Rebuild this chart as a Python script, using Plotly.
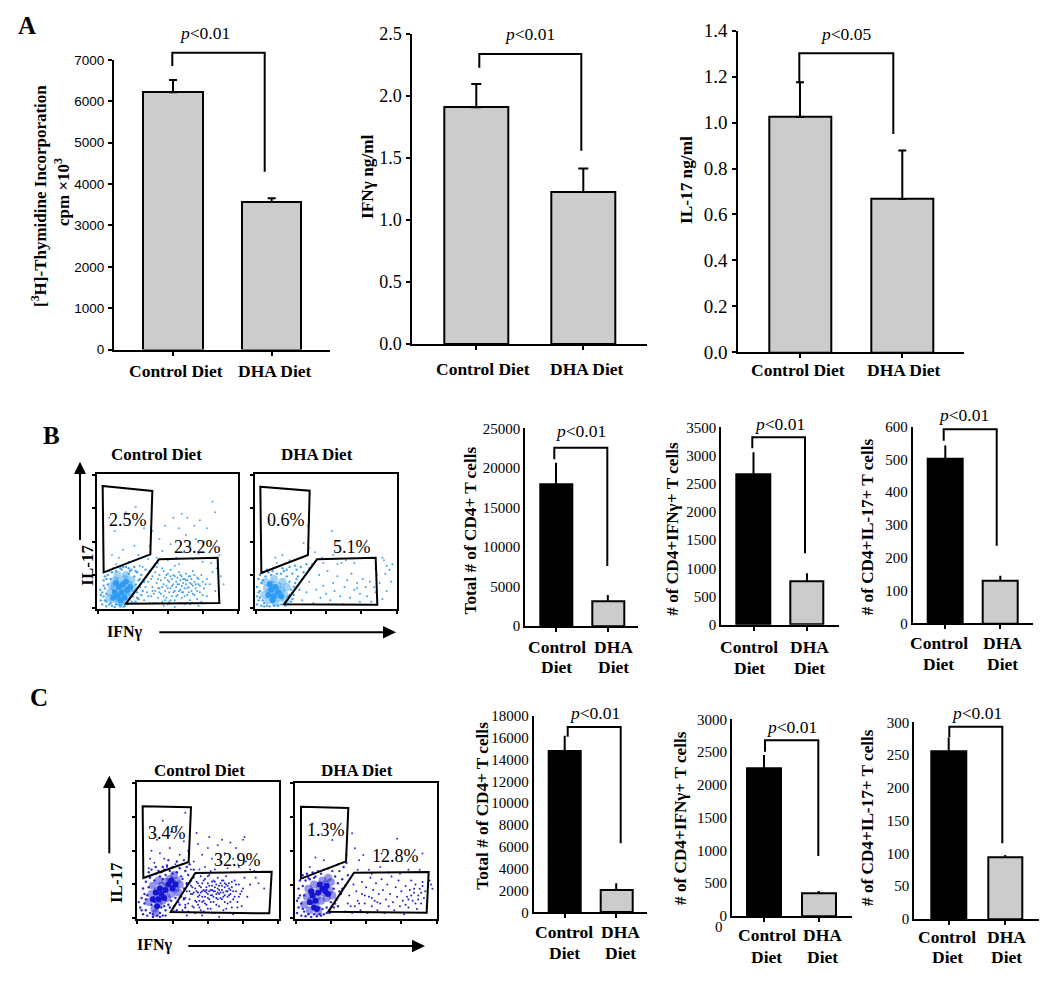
import plotly.graph_objects as go

W, H = 1050, 993
SERIF = "Liberation Serif"
SANS = "Liberation Sans"

categories = ["Control Diet", "DHA Diet"]
p_001 = "<i>p</i>&lt;0.01"
p_005 = "<i>p</i>&lt;0.05"

a1_means = [6220, 3566]; a1_errors = [295, 90]; a1_ticks = [0, 1000, 2000, 3000, 4000, 5000, 6000, 7000]
a2_means = [1.91, 1.225]; a2_errors = [0.187, 0.19]; a2_ticks = [0, 0.5, 1, 1.5, 2, 2.5]
a3_means = [1.024, 0.667]; a3_errors = [0.152, 0.212]; a3_ticks = [0, 0.2, 0.4, 0.6, 0.8, 1, 1.2, 1.4]
b1_means = [17900, 3120]; b1_errors = [2750, 800]; b1_ticks = [0, 5000, 10000, 15000, 20000, 25000]
b2_means = [2667, 775]; b2_errors = [390, 136]; b2_ticks = [0, 500, 1000, 1500, 2000, 2500, 3000, 3500]
b3_means = [501, 131]; b3_errors = [42, 14]; b3_ticks = [0, 100, 200, 300, 400, 500, 600]
c1_means = [14790, 2074]; c1_errors = [1400, 586]; c1_ticks = [0, 2000, 4000, 6000, 8000, 10000, 12000, 14000, 16000, 18000]
c2_means = [2257, 351]; c2_errors = [198, 30]; c2_ticks = [0, 500, 1000, 1500, 2000, 2500, 3000]
c3_means = [256, 94.6]; c3_errors = [21, 3]; c3_ticks = [0, 50, 100, 150, 200, 250, 300]

# Flow cytometry events, read by eye, percent of each axis (IFNg, IL-17)
bc_inner = [(12,12),(14,9),(15,16),(17,12),(19,8),(18,18),(16,6),(21,14),(13,19),(11,8),(20,20),(23,16)]
bc_core = [(9,12),(11,7),(12,16),(13,10),(14,20),(15,5),(15,13),(16,8),(17,17),(18,11),(19,22),(19,6),(20,14),(21,9),(22,18),(23,12),(24,21),(12,21),(10,17),(17,3),(25,15),(8,8),(14,25),(20,25)]
bc_mid = [(3,3),(4,9),(5,15),(4,21),(6,5),(6,11),(7,18),(7,25),(8,3),(9,22),(10,2),(10,27),(12,1),(13,28),(16,2),(17,29),(19,1.5),(21,3),(22,26),(23,28),(24,5),(25,9),(26,24),(27,18),(28,12),(28,27),(29,21),(30,16),(31,25),(31,10),(27,5),(33,20),(34,29),(2,6),(1.5,14),(6,1.5),(26,31),(20,31),(14,31),(11,30),(5,24),(8,28),(3,12),(29,7),(32,13),(24,29),(18,31),(2,10),(5,6),(9,4),(13,3),(26,4),(28,8),(30,22),(27,28),(22,30),(16,30),(6,22),(4,17)]
bc_gate = [(33,6),(35,12),(36,20),(37,28),(38,9),(39,16),(39,24),(40,4),(41,13),(42,19),(42,31),(43,8),(44,25),(44,15),(45,11),(45,21),(46,5),(47,18),(47,28),(48,13),(48,23),(49,8),(49,17),(50,26),(50,3),(51,20),(51,12),(52,15),(52,29),(53,9),(53,22),(54,18),(54,25),(55,13),(55,6),(56,20),(56,16),(57,23),(57,10),(58,18),(58,27),(59,14),(59,21),(60,8),(60,17),(60,24),(61,19),(61,12),(62,22),(62,15),(63,26),(63,18),(64,10),(64,21),(65,16),(65,24),(66,19),(66,6),(67,13),(67,22),(68,17),(68,28),(69,20),(69,10),(70,15),(71,23),(71,7),(72,18),(73,12),(74,25),(74,5),(75,20),(76,15),(78,22),(78,9),(80,18),(82,27),(84,13),(85,30),(47,2),(55,1),(62,3),(72,2),
           (34,16),(37,4),(38,22),(40,11),(41,27),(43,15),(43,22),(46,16),(46,30),(48,6),(50,15),(50,21),(52,6),(53,17),(54,12),(55,24),(56,9),(57,18),(58,13),(59,25),(60,12),(61,22),(62,9),(63,21),(64,15),(65,12),(66,24),(67,18),(68,11),(69,25),(70,18),(71,13),(72,22),(73,17),(75,10),(77,18),(42,4),(51,5),(59,4),(66,3),(44,12),(47,9),(36,9),(39,13),(49,25),(52,24)]
bc_sparse = [(8,68),(12,58),(20,72),(27,76),(15,38),(10,40),(18,44),(22,35),(26,47),(29,40),(13,33),(30,32),(33,60),(37,47),(39,58),(42,38),(44,52),(46,43),(48,62),(50,36),(52,48),(54,68),(56,38),(58,60),(60,71),(61,42),(63,55),(64,68),(66,46),(68,37),(69,62),(70,52),(72,41),(73,66),(75,35),(76,50),(78,60),(80,42),(81,34),(84,72),(87,40),(86,33),(88,24),(90,18),(82,38),(55,32),(43,34),(36,37),(32,31),(40,31),(58,33),(82,80)]

bd_inner = [(9,10),(11,14),(13,9),(14,16),(16,12),(18,9),(12,6),(10,18)]
bd_core = [(6,10),(8,15),(9,6),(10,12),(11,18),(12,8),(13,14),(13,22),(14,4),(15,11),(16,17),(17,8),(18,14),(19,20),(20,11),(21,6),(7,20),(22,16)]
bd_mid = [(1,3),(1,9),(1,16),(2,22),(2,6),(3,13),(3,25),(4,2),(4,19),(5,27),(5,6),(6,1.5),(7,24),(8,2),(9,27),(10,1.5),(12,28),(13,2),(15,26),(16,2),(18,26),(18,3),(20,28),(21,2),(22,24),(23,9),(24,20),(25,5),(25,14),(26,26),(27,10),(28,19),(29,29),(30,24),(31,14),(32,31),(34,27),(36,33),(38,30),(28,32),(24,31),(3,8),(5,21),(11,25),(24,10),(27,16),(22,29),(2,12),(6,4),(23,3),(26,7),(29,22),(19,30),(8,29)]
bd_gate = [(33,6),(36,12),(38,20),(41,4),(43,14),(45,25),(46,8),(48,17),(50,11),(51,28),(53,6),(55,19),(56,13),(58,24),(60,9),(62,3),(63,16),(65,21),(67,8),(68,26),(70,14),(72,19),(74,5),(74,11),(76,22),(72,15),(78,16),(79,9),(81,20),(82,5),(84,16),(85,12),(86,25),(88,19),(90,7),(92,26),(93,13),(95,29),(97,33),(96,20),(90,38),(93,32)]
bd_sparse = [(14,38),(19,40),(15,34),(24,36),(37,62),(34,49),(38,45),(42,42),(47,38),(54,58),(55,40),(60,45),(64,36),(40,33),(48,34),(61,34),(33,38),(10,66),(91,36),(85,30),(80,38),(58,33),(70,34)]

cc_inner = [(11,14),(13,19),(15,14),(14,9),(17,18),(19,15),(16,22),(22,25),(25,22),(24,28),(27,25),(20,21)]
cc_core = [(8,12),(10,18),(11,24),(12,7),(13,14),(14,20),(15,11),(16,17),(17,24),(18,13),(19,20),(20,27),(22,23),(23,29),(24,18),(25,26),(26,32),(27,22),(28,28),(29,19),(30,25),(21,15),(13,4),(15,28)]
cc_mid = [(2,8),(3,15),(4,3),(4,22),(5,11),(6,27),(6,6),(7,17),(7,2),(8,23),(9,30),(9,4),(10,10),(10,36),(11,1),(12,28),(12,12),(13,33),(14,2),(14,9),(15,35),(16,4),(16,31),(17,8),(18,2),(18,29),(19,36),(20,6),(20,32),(21,39),(22,10),(23,35),(24,5),(24,13),(25,38),(26,9),(27,15),(28,34),(29,12),(30,37),(31,16),(32,29),(33,22),(34,35),(35,26),(36,32),(37,40),(38,28),(22,43),(28,42),(33,43),(40,36),(5,18),(11,3),(17,34),(19,9),(26,5),(30,10),(33,14),(34,8),(1,12),(3,6),(6,14),(8,34),(13,38),(16,1),(20,2),(23,8),(28,6),(31,31),(35,38),(25,33),(18,38)]
cc_gate = [(32,6),(33,15),(34,10),(35,20),(36,5),(37,14),(37,26),(38,18),(39,9),(39,23),(40,30),(41,13),(41,4),(42,20),(42,27),(43,16),(44,8),(44,24),(45,31),(45,19),(46,12),(46,26),(47,5),(47,21),(48,16),(48,29),(49,23),(49,10),(50,18),(50,26),(51,14),(51,32),(52,21),(52,7),(53,24),(53,17),(54,28),(54,12),(55,20),(55,4),(56,25),(56,15),(57,22),(57,30),(58,18),(58,9),(59,26),(60,21),(60,14),(61,28),(61,6),(62,23),(62,17),(63,31),(64,20),(64,11),(65,26),(66,18),(67,23),(67,8),(68,14),(69,28),(70,20),(71,12),(72,25),(73,18),(74,9),(75,22),(76,30),(78,16),(80,25),(83,35),(35,2),(46,2),(58,1),(68,3),
           (36,11),(38,24),(40,8),(40,19),(43,26),(44,13),(45,6),(46,20),(47,28),(48,11),(49,19),(50,7),(50,31),(51,24),(52,12),(53,21),(54,16),(55,27),(56,10),(57,19),(58,24),(59,15),(60,28),(61,19),(62,12),(63,25),(64,16),(65,22),(66,12),(67,27),(68,20),(69,16),(70,25),(72,16),(74,20),(43,10),(53,4),(63,7),(71,8),
           (41,22),(43,19),(45,23),(46,16),(47,13),(49,21),(50,15),(51,20),(52,17),(53,27),(54,20),(55,23),(56,18),(57,14),(58,21),(59,19),(60,24),(61,16),(62,26),(63,20),(64,24),(65,17),(66,21),(48,20),(44,17),(39,18),(42,12),(37,20),(34,15),(35,25)]
cc_sparse = [(8,37),(12,41),(16,48),(10,50),(14,58),(19,44),(23,52),(27,40),(30,47),(24,64),(18,72),(12,62),(9,44),(28,68),(21,38),(34,78),(33,57),(36,50),(40,42),(43,55),(46,47),(48,38),(51,60),(53,44),(55,36),(57,54),(59,42),(60,58),(62,48),(64,37),(66,56),(68,44),(70,52),(72,38),(75,58),(77,42),(80,36),(84,30),(86,26),(90,22),(38,36),(44,36),(52,35),(50,52),(42,63),(76,60)]

cd_inner = [(10,12),(12,17),(14,13),(13,8),(16,19),(17,25),(19,22),(21,20),(22,24),(11,20),(15,7),(23,18)]
cd_core = [(6,10),(8,16),(9,22),(10,6),(11,13),(12,19),(13,25),(14,10),(15,16),(16,5),(17,22),(18,13),(19,28),(20,19),(21,25),(22,15),(23,30),(24,21),(25,27),(26,17)]
cd_mid = [(1,4),(1,13),(2,22),(2,8),(3,28),(3,17),(4,2),(4,11),(5,24),(5,32),(6,5),(7,28),(7,1.5),(8,33),(9,3),(10,29),(11,1),(12,34),(13,3),(14,31),(15,1.5),(16,35),(17,8),(18,2),(18,33),(19,7),(20,3),(20,36),(22,8),(23,37),(24,4),(25,12),(26,35),(27,8),(27,22),(28,31),(29,14),(30,26),(31,35),(32,18),(33,29),(34,38),(35,24),(36,41),(37,32),(30,40),(6,17),(13,30),(22,4),(28,11),(31,20),(2,15),(5,7),(9,30),(17,3),(25,5),(30,9),(33,22)]
cd_gate = [(35,5),(37,11),(38,17),(40,4),(41,25),(42,9),(43,20),(44,13),(46,6),(47,18),(47,27),(49,11),(50,23),(51,4),(52,16),(53,30),(54,9),(55,21),(56,13),(57,26),(58,6),(59,18),(60,11),(61,29),(62,21),(63,4),(64,14),(65,25),(66,9),(67,18),(68,31),(69,12),(70,6),(71,23),(72,16),(73,28),(74,9),(75,20),(76,13),(77,3),(78,24),(79,16),(80,8),(81,21),(82,28),(83,13),(84,19),(85,25),(86,7),(87,17),(88,22),(89,11),(90,27),(91,15),(92,20),(93,9),(94,24),(95,28),(96,25),(97,22),(85,11),(82,17),(78,10),(84,22),(87,14),(89,19),(90,24),(80,14),(45,11),(49,17),(54,15),(58,12),(39,9)]
cd_sparse = [(12,70),(10,38),(14,45),(20,43),(26,58),(40,63),(45,43),(48,47),(42,52),(36,47),(72,59),(61,48),(52,36),(60,38),(66,34),(74,33),(80,36),(88,36),(90,48),(54,33),(44,36)]

def px(x): return x / W
def py(y): return 1 - y / H

fig = go.Figure()
shapes, annos = [], []
axis_n = [0]

def new_axes(left, right, top, bottom):
    axis_n[0] += 1
    n = axis_n[0]
    xa, ya = ("x", "y") if n == 1 else (f"x{n}", f"y{n}")
    xk, yk = ("xaxis", "yaxis") if n == 1 else (f"xaxis{n}", f"yaxis{n}")
    return n, xa, ya, xk, yk, [px(left), px(right)], [py(bottom), py(top)]

def text(x, y, s, size, family=SERIF, bold=False, angle=0):
    if bold:
        s = f"<b>{s}</b>"
    annos.append(dict(x=px(x), y=py(y), xref="paper", yref="paper", text=s, showarrow=False,
                      xanchor="center", yanchor="middle", textangle=angle,
                      font=dict(size=size, family=family, color="black")))

def line(pts, w=2):
    path = "M " + " L ".join(f"{px(a)} {py(b)}" for a, b in pts)
    shapes.append(dict(type="path", path=path, xref="paper", yref="paper",
                       line=dict(color="black", width=w), fillcolor="rgba(0,0,0,0)"))

def polygon(pts, w=2):
    path = "M " + " L ".join(f"{px(a)} {py(b)}" for a, b in pts) + " Z"
    shapes.append(dict(type="path", path=path, xref="paper", yref="paper",
                       line=dict(color="black", width=w), fillcolor="rgba(0,0,0,0)"))

def head(pts):
    path = "M " + " L ".join(f"{px(a)} {py(b)}" for a, b in pts) + " Z"
    shapes.append(dict(type="path", path=path, xref="paper", yref="paper",
                       line=dict(color="black", width=0), fillcolor="black"))

def bar_panel(means, errors, ticks, fmt, ax, right, y0, ytop, c1, c2, bar_w, colors, cap,
              tick_font, tick_size, ticklen, standoff, bracket, p, cat_x, cat_y, cat_size):
    n, xa, ya, xk, yk, dx, dy = new_axes(ax, right, ytop, y0)
    sp = c2 - c1
    rng = [(ax - c1) / sp, (right - c1) / sp]
    fig.add_trace(go.Bar(x=categories, y=means, xaxis=xa, yaxis=ya, width=bar_w / sp,
                         marker=dict(color=colors, line=dict(color="black", width=2)),
                         error_y=dict(type="data", symmetric=False, array=errors,
                                      arrayminus=[0, 0], color="black", thickness=2, width=cap),
                         showlegend=False))
    fig.update_layout({
        xk: dict(domain=dx, range=rng, type="category", anchor=ya, showgrid=False, zeroline=False,
                 automargin=False,
                 showline=True, linecolor="black", linewidth=2, ticks="outside", ticklen=4,
                 tickwidth=2, tickcolor="black", showticklabels=False,
                 tickmode="array", tickvals=categories),
        yk: dict(domain=dy, range=[0, ticks[-1]], anchor=xa, showgrid=False, zeroline=False,
                 automargin=False,
                 showline=True, linecolor="black", linewidth=2,
                 ticks="outside" if ticklen else "", ticklen=ticklen, tickwidth=2,
                 tickcolor="rgba(0,0,0,0)" if not ticklen else "black",
                 tickmode="array", tickvals=ticks, ticktext=[fmt.format(t) for t in ticks],
                 ticklabelstandoff=standoff,
                 tickfont=dict(size=tick_size, family=tick_font, color="black")),
    })
    lx, ly0, ly1, rx, ry = bracket
    line([(lx, ly0), (lx, ly1), (rx, ly1), (rx, ry)])
    text(p[0], p[1], p[2], 17.5)
    for cx, c in zip(cat_x, categories):
        if len(cat_y) == 1:
            text(cx, cat_y[0], c, cat_size, bold=True)
        else:
            for cy, word in zip(cat_y, c.split(" ")):
                text(cx, cy, word, cat_size, bold=True)

def flow_panel(left, right, top, bottom, color, inner, core, mid, gate, sparse):
    n, xa, ya, xk, yk, dx, dy = new_axes(left, right, top, bottom)
    layers = [(core, 8, 0.45), (inner, 6, 1), (mid, 2.4, 0.9), (gate, 2.0, 0.95), (sparse, 2, 0.85)]
    for pts, size, op in layers:
        fig.add_trace(go.Scatter(x=[a for a, _ in pts], y=[b for _, b in pts], mode="markers",
                                 xaxis=xa, yaxis=ya, showlegend=False,
                                 marker=dict(color=color, size=size, opacity=op, line=dict(width=0))))
    tv = [0, 25, 50, 75, 100]
    common = dict(range=[-0.5, 100.5], showgrid=False, zeroline=False, showline=True, mirror=True,
                  automargin=False,
                  linecolor="black", linewidth=2, ticks="outside", ticklen=3, tickwidth=1.5,
                  tickcolor="black", tickmode="array", tickvals=tv, showticklabels=False)
    fig.update_layout({xk: dict(domain=dx, anchor=ya, **common), yk: dict(domain=dy, anchor=xa, **common)})

GRAY, BLACK = "#CCCCCC", "black"

bar_panel(a1_means, a1_errors, a1_ticks, "{:d}", 114, 330, 349.5, 60, 173, 271.7, 59.5, [GRAY, GRAY], 4,
          SANS, 13.5, 4, 1, (172.3, 66, 52.7, 264.7, 171.7), (204, 33, p_001), (176, 275), [371], 17.5)
bar_panel(a2_means, a2_errors, a2_ticks, "{:.1f}", 412.3, 647, 344, 34, 476.3, 583.3, 64.5, [GRAY, GRAY], 5,
          SERIF, 18, 4, 1, (479.3, 67.7, 54, 581.3, 150.7), (529, 34, p_001), (483, 587), [369], 17.5)
bar_panel(a3_means, a3_errors, a3_ticks, "{:.1f}", 738.3, 964, 352.3, 30.7, 800, 902.3, 62, [GRAY, GRAY], 4,
          SERIF, 19, 4, 1, (799.3, 82, 53.3, 893.3, 134), (845.7, 34, p_005), (798, 904), [370], 17.5)
bar_panel(b1_means, b1_errors, b1_ticks, "{:d}", 525.3, 638.3, 626, 428.3, 556, 607.8, 32, [BLACK, GRAY], 0,
          SERIF, 15, 0, 0, (554.3, 459.3, 447.7, 607.3, 566), (580.7, 430.7, p_001), (556.7, 613), [646.7, 666.7], 17.5)
bar_panel(b2_means, b2_errors, b2_ticks, "{:d}", 721.3, 839.3, 624.7, 427.3, 753.5, 807, 33.5, [BLACK, GRAY], 0,
          SERIF, 15, 0, 0, (752.3, 448.3, 437.3, 805, 553.3), (779.3, 424, p_001), (749, 809.3), [646.7, 667.7], 17.5)
bar_panel(b3_means, b3_errors, b3_ticks, "{:d}", 912.7, 1033.3, 623.3, 426.7, 945.3, 1000.3, 34.5, [BLACK, GRAY], 0,
          SERIF, 15, 0, 0, (943.7, 440.7, 429.3, 996.7, 545.7), (963.3, 415, p_001), (938.7, 1002.7), [643.3, 664], 17.5)
bar_panel(c1_means, c1_errors, c1_ticks, "{:d}", 533.7, 646.7, 912.3, 716, 564.7, 616.2, 32, [BLACK, GRAY], 0,
          SERIF, 15, 0, 0, (567.7, 736.7, 727, 620.7, 843.3), (594.3, 713.3, p_001), (564, 620.7), [931.7, 953.3], 17.5)
bar_panel(c2_means, c2_errors, c2_ticks, "{:d}", 732, 851.7, 916, 719.3, 764, 818.7, 34, [BLACK, GRAY], 0,
          SERIF, 15, 0, 0, (765, 751.7, 740.3, 818.3, 856), (791.7, 726.7, p_001), (766.7, 822.3), [935, 956.7], 17.5)
bar_panel(c3_means, c3_errors, c3_ticks, "{:d}", 914.3, 1039, 919, 722.3, 948.7, 1005.2, 34.5, [BLACK, GRAY], 0,
          SERIF, 15, 0, 0, (949.3, 737.3, 726.7, 1002.3, 843.3), (976.7, 712.7, p_001), (947.3, 1006.7), [936.7, 957.3], 17.5)

flow_panel(97.3, 238.3, 474.3, 609, "#2F9BF5", bc_inner, bc_core, bc_mid, bc_gate, bc_sparse)
flow_panel(255, 397.3, 474.3, 609, "#2F9BF5", bd_inner, bd_core, bd_mid, bd_gate, bd_sparse)
flow_panel(136.7, 279, 782.3, 919, "#1414D2", cc_inner, cc_core, cc_mid, cc_gate, cc_sparse)
flow_panel(295, 437.3, 782.7, 919, "#1414D2", cd_inner, cd_core, cd_mid, cd_gate, cd_sparse)

# gates: image positions of the drawn polygons
def z(ox, oy, pts): return [(ox + a / 3, oy + b / 3) for a, b in pts]
polygon(z(90, 465, [(38,63),(187,78),(181,268),(41,322)]))
polygon(z(90, 465, [(108,416),(207,283),(383,278),(388,414)]))
polygon(z(245, 465, [(46,65),(194,77),(189,270),(49,324)]))
polygon(z(245, 465, [(117,418),(216,283),(392,278),(397,419)]))
polygon(z(130, 775, [(38,94),(183,97),(176,261),(40,309)]))
polygon(z(130, 775, [(122,411),(196,294),(425,290),(418,415)]))
polygon(z(30, 680, [(813,380),(955,384),(948,544),(813,596)]))
polygon(z(30, 680, [(895,695),(972,578),(1196,576),(1190,698)]))

# flow labels
for x, y, s in [(127.7, 520, "2.5%"), (197.7, 546.7, "23.2%"), (285.7, 520, "0.6%"), (351.7, 546.7, "5.1%"),
                (167.3, 833.3, "3.4%"), (237.3, 860, "32.9%"), (325.7, 830, "1.3%"), (395.7, 855.7, "12.8%")]:
    text(x, y, s, 18)
for x, y, s in [(156, 454, "Control Diet"), (317.3, 454, "DHA Diet"), (199, 770, "Control Diet"), (356.7, 770, "DHA Diet")]:
    text(x, y, s, 17, bold=True)

# arrows
line([(80, 540), (80, 470)]); head([(80, 461.7), (74, 474), (86, 474)])
line([(159.3, 632.3), (386, 632.3)]); head([(396, 632.3), (383, 626), (383, 638.6)])
line([(109.3, 853.3), (109.3, 785)]); head([(109.3, 775.7), (103, 788), (115.6, 788)])
line([(188.3, 946), (415, 946)]); head([(425, 946), (412, 939.7), (412, 952.3)])
text(86.7, 565, "IL-17", 17, bold=True, angle=-90)
text(116, 883, "IL-17", 17, bold=True, angle=-90)
text(125, 631.7, "IFNγ", 16, bold=True)
text(155, 945, "IFNγ", 16, bold=True)

# axis titles
text(39, 196, "[<sup>3</sup>H]-Thymidine Incorporation", 17, bold=True, angle=-90)
text(62, 192, "cpm ×10<sup>3</sup>", 17, bold=True, angle=-90)
text(368, 177, "IFNγ ng/ml", 17.3, bold=True, angle=-90)
text(686, 180, "IL-17 ng/ml", 17.3, bold=True, angle=-90)
text(470.7, 530.7, "Total # of CD4+ T cells", 17.2, bold=True, angle=-90)
text(671.7, 529, "# of CD4+IFNγ+ T cells", 17.2, bold=True, angle=-90)
text(867.3, 527, "# of CD4+IL-17+ T cells", 17.2, bold=True, angle=-90)
text(481.7, 806, "Total # of CD4+ T cells", 17.2, bold=True, angle=-90)
text(680, 818, "# of CD4+IFNγ+ T cells", 17.2, bold=True, angle=-90)
text(867.3, 817.7, "# of CD4+IL-17+ T cells", 17.2, bold=True, angle=-90)
text(719, 927, "0", 15)

# panel letters
text(26.7, 26, "A", 25, bold=True)
text(51.7, 435, "B", 25, bold=True)
text(39.3, 697.3, "C", 25, bold=True)

fig.update_layout(width=W, height=H, margin=dict(l=0, r=0, t=0, b=0, autoexpand=False), autosize=False,
                  plot_bgcolor="white", paper_bgcolor="white", shapes=shapes, annotations=annos,
                  bargap=0, showlegend=False)
fig.write_html("out.html", config=dict(displayModeBar=False),
               post_script="document.body.style.margin='0';document.body.style.overflow='hidden';")
